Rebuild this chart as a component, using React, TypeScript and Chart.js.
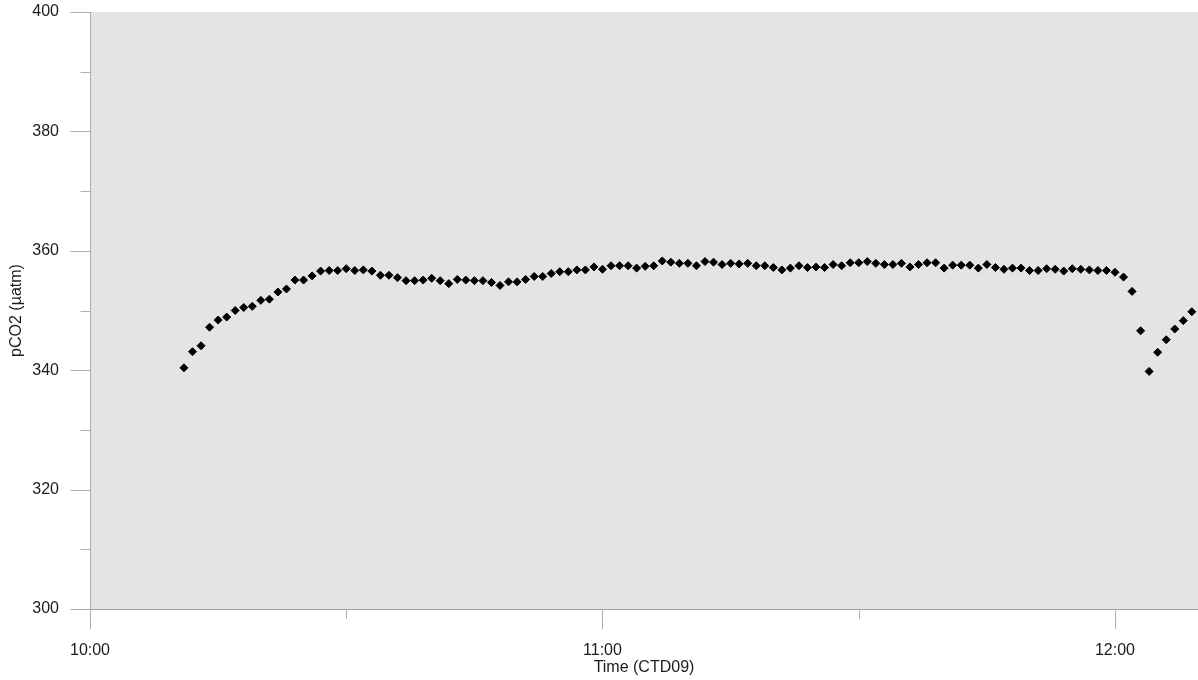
import { useEffect, useRef } from "react";
import { Chart, registerables } from "chart.js";

Chart.register(...registerables);

// Sample times (HH:MM)
const timeLabels = [
  "10:11", "10:12", "10:13", "10:14", "10:15", "10:16", "10:17", "10:18", "10:19", "10:20",
  "10:21", "10:22", "10:23", "10:24", "10:25", "10:26", "10:27", "10:28", "10:29", "10:30",
  "10:31", "10:32", "10:33", "10:34", "10:35", "10:36", "10:37", "10:38", "10:39", "10:40",
  "10:41", "10:42", "10:43", "10:44", "10:45", "10:46", "10:47", "10:48", "10:49", "10:50",
  "10:51", "10:52", "10:53", "10:54", "10:55", "10:56", "10:57", "10:58", "10:59", "11:00",
  "11:01", "11:02", "11:03", "11:04", "11:05", "11:06", "11:07", "11:08", "11:09", "11:10",
  "11:11", "11:12", "11:13", "11:14", "11:15", "11:16", "11:17", "11:18", "11:19", "11:20",
  "11:21", "11:22", "11:23", "11:24", "11:25", "11:26", "11:27", "11:28", "11:29", "11:30",
  "11:31", "11:32", "11:33", "11:34", "11:35", "11:36", "11:37", "11:38", "11:39", "11:40",
  "11:41", "11:42", "11:43", "11:44", "11:45", "11:46", "11:47", "11:48", "11:49", "11:50",
  "11:51", "11:52", "11:53", "11:54", "11:55", "11:56", "11:57", "11:58", "11:59", "12:00",
  "12:01", "12:02", "12:03", "12:04", "12:05", "12:06", "12:07", "12:08", "12:09",
];

// pCO2 (µatm)
const pco2 = [
  340.4, 343.1, 344.1, 347.2, 348.4, 348.9, 350.0, 350.5, 350.7, 351.7,
  351.9, 353.1, 353.6, 355.1, 355.1, 355.8, 356.6, 356.7, 356.7, 357.0,
  356.7, 356.8, 356.6, 355.9, 355.9, 355.5, 355.0, 355.0, 355.1, 355.4,
  355.0, 354.5, 355.2, 355.1, 355.0, 355.0, 354.7, 354.2, 354.8, 354.8,
  355.2, 355.7, 355.7, 356.2, 356.5, 356.5, 356.8, 356.8, 357.3, 356.9,
  357.5, 357.5, 357.5, 357.1, 357.4, 357.5, 358.3, 358.1, 357.9, 357.9,
  357.5, 358.2, 358.1, 357.7, 357.9, 357.8, 357.9, 357.5, 357.5, 357.2,
  356.8, 357.1, 357.5, 357.2, 357.3, 357.2, 357.7, 357.5, 358.0, 358.0,
  358.2, 357.9, 357.7, 357.7, 357.9, 357.3, 357.7, 358.0, 358.0, 357.1,
  357.6, 357.6, 357.6, 357.1, 357.7, 357.2, 356.9, 357.1, 357.1, 356.7,
  356.7, 357.0, 356.9, 356.6, 357.0, 356.9, 356.8, 356.7, 356.7, 356.4,
  355.6, 353.2, 346.6, 339.8, 343.0, 345.1, 346.9, 348.3, 349.8,
];

const xTickLabels = ["10:00", "10:30", "11:00", "11:30", "12:00"];
const xTickShown = ["10:00", "11:00", "12:00"];
const yTickValues = [300, 310, 320, 330, 340, 350, 360, 370, 380, 390, 400];
const yTickShown = [300, 320, 340, 360, 380, 400];

const toMin = (t: string) => {
  const [h, m] = t.split(":").map(Number);
  return (h - 10) * 60 + m;
};

const FONT = { family: "'Liberation Sans', Arial, sans-serif", size: 16 };
const TEXT = "#1c1c1c";

const decor = {
  id: "decor",
  beforeDraw(chart: any) {
    const { ctx, chartArea: a, scales } = chart;
    ctx.save();
    ctx.fillStyle = "#e4e4e4";
    ctx.fillRect(a.left, a.top, a.right - a.left, a.bottom - a.top);
    ctx.lineWidth = 1;
    ctx.strokeStyle = "#b0b0b0";
    const lx = Math.round(a.left) + 0.5;
    // left axis line
    ctx.beginPath();
    ctx.moveTo(lx, a.top);
    ctx.lineTo(lx, a.bottom);
    ctx.stroke();
    // y ticks
    for (const v of yTickValues) {
      const py = Math.round(scales.y.getPixelForValue(v)) + 0.5;
      const L = yTickShown.includes(v) ? 20 : 10;
      ctx.beginPath();
      ctx.moveTo(lx - L, py);
      ctx.lineTo(lx, py);
      ctx.stroke();
    }
    // x ticks
    for (const t of xTickLabels) {
      const px = Math.round(scales.x.getPixelForValue(toMin(t))) + 0.5;
      const L = xTickShown.includes(t) ? 20 : 10;
      ctx.beginPath();
      ctx.moveTo(px, a.bottom);
      ctx.lineTo(px, a.bottom + L);
      ctx.stroke();
    }
    // bottom axis line
    ctx.strokeStyle = "#a4a4a4";
    const by = Math.round(a.bottom) + 0.5;
    ctx.beginPath();
    ctx.moveTo(a.left, by);
    ctx.lineTo(a.right, by);
    ctx.stroke();
    ctx.restore();
  },
};

export default function App() {
  const ref = useRef<HTMLCanvasElement | null>(null);

  useEffect(() => {
    if (!ref.current) return;
    const chart = new Chart(ref.current, {
      type: "scatter",
      data: {
        datasets: [
          {
            data: timeLabels.map((t, i) => ({ x: toMin(t), y: pco2[i] })),
            pointStyle: "rectRot",
            pointRadius: 4,
            borderWidth: 1,
            backgroundColor: "#000000",
            borderColor: "#000000",
            showLine: false,
          },
        ],
      },
      options: {
        responsive: false,
        animation: false,
        events: [],
        layout: { autoPadding: false, padding: { top: 12, right: 0, bottom: 0, left: 0 } },
        plugins: { legend: { display: false }, tooltip: { enabled: false } },
        scales: {
          x: {
            type: "linear",
            min: 0,
            max: 129.72,
            afterBuildTicks: (s: any) => {
              s.ticks = xTickLabels.map((t) => ({ value: toMin(t) }));
            },
            afterFit: (s: any) => {
              s.height = 71;
              s.paddingLeft = 0;
              s.paddingRight = 0;
            },
            ticks: {
              autoSkip: false,
              maxRotation: 0,
              padding: 32,
              font: FONT,
              color: TEXT,
              callback: (v: any) => {
                const lbl = xTickLabels.find((t) => toMin(t) === v);
                return lbl && xTickShown.includes(lbl) ? lbl : "";
              },
            },
            grid: { display: false, drawTicks: false },
            border: { display: false },
            title: {
              display: true,
              text: "Time (CTD09)",
              font: FONT,
              color: TEXT,
              padding: { top: 0, bottom: 3 },
            },
          },
          y: {
            min: 300,
            max: 400,
            afterBuildTicks: (s: any) => {
              s.ticks = yTickValues.map((v) => ({ value: v }));
            },
            afterFit: (s: any) => {
              s.width = 90;
              s.paddingTop = 0;
              s.paddingBottom = 0;
            },
            ticks: {
              padding: 31,
              font: FONT,
              color: TEXT,
              callback: (v: any) => (yTickShown.includes(v) ? String(v) : ""),
            },
            grid: { display: false, drawTicks: false },
            border: { display: false },
            title: {
              display: true,
              text: "pCO2 (µatm)",
              font: FONT,
              color: TEXT,
              padding: { top: 7, bottom: 0 },
            },
          },
        },
      },
      plugins: [decor],
    });
    return () => chart.destroy();
  }, []);

  return (
    <div style={{ position: "fixed", left: 0, top: 0, width: 1198, height: 680, background: "#ffffff" }}>
      <canvas ref={ref} width={1198} height={680} style={{ display: "block" }} />
    </div>
  );
}
